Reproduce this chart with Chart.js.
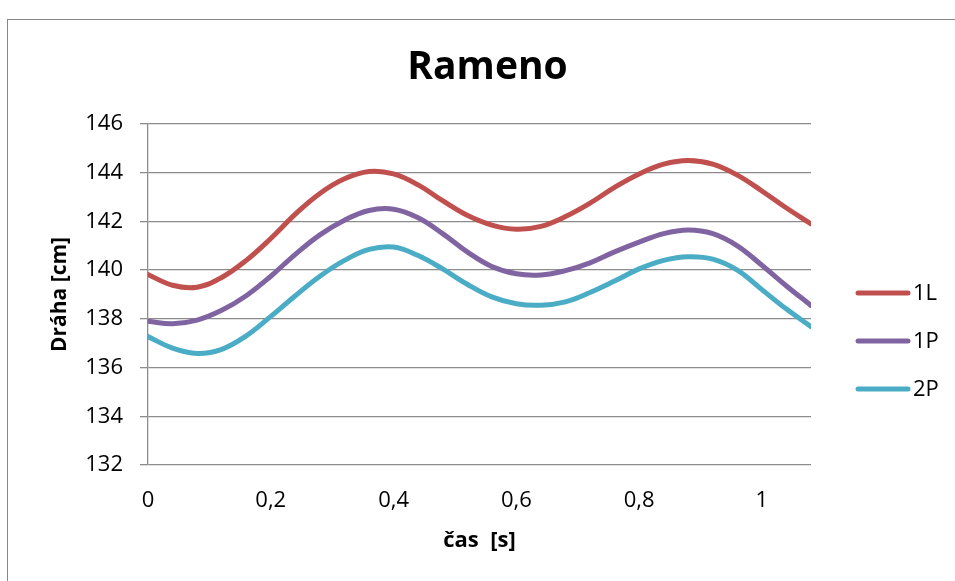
<!DOCTYPE html>
<html>
<head>
<meta charset="utf-8">
<script src="https://cdn.jsdelivr.net/npm/chart.js@4.4.1/dist/chart.umd.min.js"></script>
<style>
  html, body { margin: 0; padding: 0; background: #fff; overflow: hidden; }
  #wrap { position: relative; width: 955px; height: 581px; }
  #frame { position: absolute; left: 7px; top: 19px; width: 1000px; height: 700px;
           border: 1px solid #868686; pointer-events: none; }
</style>
</head>
<body>
<div id="wrap">
  <canvas id="myChart" width="955" height="581"></canvas>
  <div id="frame"></div>
</div>
<script>
// time [s]
var times = [0, 0.04, 0.08, 0.12, 0.16, 0.2, 0.24, 0.28, 0.32, 0.36, 0.4, 0.44, 0.48, 0.52,
             0.56, 0.6, 0.64, 0.68, 0.72, 0.76, 0.8, 0.84, 0.88, 0.92, 0.96, 1.0, 1.04, 1.08];

// path [cm]
var s1L = [139.82, 139.38, 139.30, 139.70, 140.40, 141.30, 142.30, 143.15, 143.75, 144.05,
           143.95, 143.50, 142.85, 142.25, 141.85, 141.68, 141.80, 142.20, 142.75, 143.40,
           143.95, 144.35, 144.50, 144.35, 143.90, 143.25, 142.55, 141.90];
var s1P = [137.90, 137.80, 137.95, 138.35, 138.95, 139.75, 140.65, 141.45, 142.05, 142.45,
           142.50, 142.15, 141.50, 140.75, 140.15, 139.85, 139.80, 139.98, 140.30, 140.75,
           141.15, 141.50, 141.65, 141.50, 141.00, 140.20, 139.35, 138.55];
var s2P = [137.27, 136.80, 136.58, 136.75, 137.30, 138.10, 138.95, 139.75, 140.40, 140.85,
           140.95, 140.60, 140.05, 139.42, 138.90, 138.62, 138.56, 138.70, 139.08, 139.55,
           140.05, 140.40, 140.55, 140.45, 140.00, 139.20, 138.40, 137.68];

var seriesLabels = ['1L', '1P', '2P'];
var seriesColors = ['#C0504D', '#8064A2', '#4BACC6'];

var xMin = 0, xMax = 1.08, xStep = 0.2;
var yMin = 132, yMax = 146, yStep = 2;

function toPoints(ys) {
    return ys.map(function (v, i) { return { x: times[i], y: v }; });
}

var FONT = "'Open Sans', 'DejaVu Sans', sans-serif";
var gridGray = '#8c8c8c';

// legend on the right, drawn like the spreadsheet one
var sideLegend = {
    id: 'sideLegend',
    afterDraw: function (chart) {
        var ctx = chart.ctx;
        ctx.save();
        ctx.font = '22px ' + FONT;
        ctx.textBaseline = 'middle';
        ctx.textAlign = 'left';
        chart.data.datasets.forEach(function (ds, i) {
            var y = 293 + i * 48;
            ctx.strokeStyle = ds.borderColor;
            ctx.lineWidth = 5;
            ctx.lineCap = 'round';
            ctx.beginPath();
            ctx.moveTo(858, y);
            ctx.lineTo(908, y);
            ctx.stroke();
            ctx.fillStyle = '#000';
            ctx.fillText(ds.label, 913, y + 1);
        });
        ctx.restore();
    }
};

var datasets = [s1L, s1P, s2P].map(function (s, i) {
    return {
        label: seriesLabels[i],
        data: toPoints(s),
        borderColor: seriesColors[i],
        backgroundColor: seriesColors[i],
        borderWidth: 5,
        borderCapStyle: 'round',
        borderJoinStyle: 'round',
        pointRadius: 0,
        tension: 0.4,
        fill: false
    };
});

var ctx = document.getElementById('myChart');
var myChart = new Chart(ctx, {
    type: 'line',
    data: { datasets: datasets },
    plugins: [sideLegend],
    options: {
        responsive: false,
        animation: false,
        layout: { padding: { left: 20, right: 0, top: 0, bottom: 0 } },
        plugins: {
            legend: { display: false },
            tooltip: { enabled: false },
            title: {
                display: true,
                text: 'Rameno',
                color: '#000',
                font: { family: FONT, size: 39, weight: 'bold', lineHeight: 1.2 },
                padding: { top: 44, bottom: 33.2 }
            }
        },
        scales: {
            x: {
                type: 'linear',
                min: xMin,
                max: xMax,
                afterFit: function (scale) { scale.height = 116; },
                grid: { display: false, drawTicks: false },
                border: { display: false },
                ticks: {
                    stepSize: xStep,
                    includeBounds: false,
                    color: '#000',
                    padding: 23,
                    maxRotation: 0,
                    font: { family: FONT, size: 22 },
                    callback: function (v) { return String(Math.round(v * 10) / 10).replace('.', ','); }
                },
                title: {
                    display: true,
                    text: 'čas  [s]',
                    color: '#000',
                    font: { family: FONT, size: 22, weight: 'bold', lineHeight: 1.2 },
                    padding: { top: 0, bottom: 27 }
                }
            },
            y: {
                min: yMin,
                max: yMax,
                afterFit: function (scale) { scale.width = 128; },
                grid: { color: gridGray, lineWidth: 1.3, tickLength: 8, drawTicks: true },
                border: { display: true, color: gridGray, width: 1.3 },
                ticks: {
                    stepSize: yStep,
                    color: '#000',
                    padding: 17,
                    font: { family: FONT, size: 22 }
                },
                title: {
                    display: true,
                    text: 'Dráha [cm]',
                    color: '#000',
                    font: { family: FONT, size: 21, weight: 'bold', lineHeight: 1.2 },
                    padding: { top: 27, bottom: 0 }
                }
            },
            // empty strip on the right that holds the legend
            legendSpace: {
                axis: 'y',
                position: 'right',
                display: true,
                afterFit: function (scale) { scale.width = 144; },
                grid: { display: false, drawTicks: false },
                border: { display: false },
                ticks: { display: false }
            }
        }
    }
});
</script>
</body>
</html>
